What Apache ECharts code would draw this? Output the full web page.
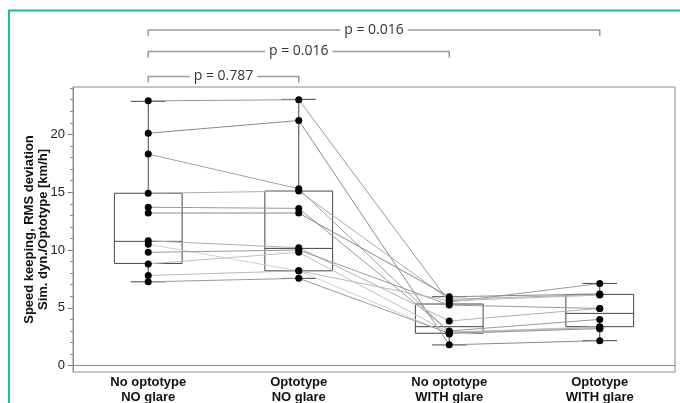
<!DOCTYPE html>
<html>
<head>
<meta charset="utf-8">
<script src="https://cdn.jsdelivr.net/npm/echarts@6/dist/echarts.min.js"></script>
<style>
  html, body { margin: 0; padding: 0; background: #fff; }
  #chart { width: 680px; height: 403px; }
</style>
</head>
<body>
<div id="chart"></div>
<script>
const categories = ['No optotype\nNO glare', 'Optotype\nNO glare', 'No optotype\nWITH glare', 'Optotype\nWITH glare']

// one value per subject, same subject order in every array
const noOptNoGlare = [22.9, 20.1, 18.3, 14.9, 13.7, 13.2, 10.8, 10.5, 9.8, 8.8, 7.8, 7.25]
const optNoGlare = [23.0, 21.2, 15.3, 15.1, 13.6, 13.2, 10.2, 8.2, 10.0, 9.8, 8.2, 7.55]
const noOptGlare = [5.5, 1.8, 2.9, 5.73, 3.0, 5.96, 3.86, 2.74, 5.24, 2.85, 5.6, 2.8]
const optGlare = [7.1, 2.16, 3.3, 6.16, 4.0, 6.2, 4.95, 3.23, 4.95, 3.37, 6.1, 3.2]

// box stats: low whisker, Q1, median, Q3, high whisker
const boxLow = [7.25, 7.55, 1.79, 2.16]
const boxQ1 = [8.84, 8.2, 2.8, 3.37]
const boxMedian = [10.75, 10.14, 3.37, 4.52]
const boxQ3 = [14.91, 15.1, 5.33, 6.16]
const boxHigh = [22.86, 23.03, 5.96, 7.11]

const majorTicks = [0, 5, 10, 15, 20]
const minorTicks = [0, 1, 2, 3, 4, 5, 6, 7, 8, 9, 10, 11, 12, 13, 14, 15, 16, 17, 18, 19, 20, 21, 22, 23, 24]

const pLabels = ['p = 0.787', 'p = 0.016', 'p = 0.016']
const pPairs = [[0, 1], [0, 2], [0, 3]]

const lineShades = ['#999', '#8a8a8a', '#a0a0a0', '#aaa', '#999', '#888', '#b0b0b0', '#d0d0d0', '#999', '#c0c0c0', '#b8b8b8', '#999']

const groups = [noOptNoGlare, optNoGlare, noOptGlare, optGlare]

const chartDom = document.getElementById('chart')
const myChart = echarts.init(chartDom)

const subjectLines = noOptNoGlare.map((_, i) => ({
  type: 'line',
  data: groups.map((g) => g[i]),
  symbol: 'none',
  silent: true,
  z: 2,
  lineStyle: { color: lineShades[i], width: 1 },
}))

const dots = []
groups.forEach((g, c) => g.forEach((v) => dots.push([c, v])))

const boxRows = categories.map((_, i) => [i, boxLow[i], boxQ1[i], boxMedian[i], boxQ3[i], boxHigh[i]])

const boxColor = '#444'

function renderBox(params, api) {
  const c = api.value(0)
  const band = api.size([1, 0])[0]
  const half = band * 0.225
  const cap = band * 0.115
  const lo = api.coord([c, api.value(1)])
  const q1 = api.coord([c, api.value(2)])
  const med = api.coord([c, api.value(3)])
  const q3 = api.coord([c, api.value(4)])
  const hi = api.coord([c, api.value(5)])
  const x = lo[0]
  const st = { stroke: boxColor, lineWidth: 1, fill: null }
  return {
    type: 'group',
    children: [
      { type: 'rect', shape: { x: x - half, y: q3[1], width: half * 2, height: q1[1] - q3[1] }, style: st },
      { type: 'line', shape: { x1: x - half, y1: med[1], x2: x + half, y2: med[1] }, style: st },
      { type: 'line', shape: { x1: x, y1: q3[1], x2: x, y2: hi[1] }, style: st },
      { type: 'line', shape: { x1: x, y1: q1[1], x2: x, y2: lo[1] }, style: st },
      { type: 'line', shape: { x1: x - cap, y1: hi[1], x2: x + cap, y2: hi[1] }, style: st },
      { type: 'line', shape: { x1: x - cap, y1: lo[1], x2: x + cap, y2: lo[1] }, style: st },
    ],
  }
}

const option = {
  animation: false,
  grid: {
    left: 73,
    right: 5,
    top: 87,
    bottom: 31,
    outerBoundsMode: 'none',
    show: true,
    borderColor: '#8c8c8c',
    borderWidth: 1,
  },
  xAxis: {
    type: 'category',
    data: categories,
    axisLine: { lineStyle: { color: '#8c8c8c' } },
    axisTick: { alignWithLabel: true, length: 3, lineStyle: { color: '#8c8c8c' } },
    axisLabel: {
      fontFamily: 'Liberation Sans, Arial',
      fontSize: 13,
      fontWeight: 'bold',
      color: '#111',
      lineHeight: 15,
      margin: 3,
    },
  },
  yAxis: [
    {
      type: 'value',
      min: -0.55,
      max: 24.1,
      name: 'Speed keeping, RMS deviation\nSim. dyn./Optotype [km/h]',
      nameLocation: 'middle',
      nameGap: 23,
      nameMoveOverlap: false,
      nameTextStyle: {
        fontFamily: 'Liberation Sans, Arial',
        fontSize: 13,
        fontWeight: 'bold',
        color: '#111',
        lineHeight: 14,
      },
      splitLine: { show: false },
      axisLine: { show: true, lineStyle: { color: '#8c8c8c' } },
      axisTick: { show: true, length: 5, customValues: majorTicks, lineStyle: { color: '#666' } },
      axisLabel: {
        customValues: majorTicks,
        fontFamily: 'Liberation Sans, Arial',
        fontSize: 13,
        color: '#222',
        margin: 8,
      },
    },
    {
      type: 'value',
      min: -0.55,
      max: 24.1,
      position: 'left',
      splitLine: { show: false },
      axisLine: { show: false },
      axisLabel: { show: false },
      axisTick: { show: true, length: 3, customValues: minorTicks, lineStyle: { color: '#888' } },
    },
  ],
  series: [
    {
      type: 'custom',
      data: boxRows,
      renderItem: renderBox,
      silent: true,
      z: 1,
    },
    ...subjectLines,
    {
      type: 'scatter',
      data: dots,
      symbolSize: 7,
      itemStyle: { color: '#000', opacity: 1 },
      silent: true,
      z: 5,
    },
  ],
}

myChart.setOption(option)

// significance brackets above the plot, anchored to the category positions
const bracketY = [76.5, 51.5, 30]
const bracketDrop = 6
const graphics = [
  {
    type: 'rect',
    shape: { x: 9, y: 10.5, width: 720, height: 440 },
    style: { stroke: '#1abc9c', lineWidth: 2, fill: null },
    silent: true,
  },
]
pPairs.forEach(([a, b], i) => {
  const x1 = myChart.convertToPixel({ xAxisIndex: 0 }, a)
  const x2 = myChart.convertToPixel({ xAxisIndex: 0 }, b)
  const y = bracketY[i]
  graphics.push({
    type: 'polyline',
    shape: { points: [[x1, y + bracketDrop], [x1, y], [x2, y], [x2, y + bracketDrop]] },
    style: { stroke: '#9a9a9a', lineWidth: 1.5, fill: null },
    silent: true,
  })
  graphics.push({
    type: 'text',
    x: (x1 + x2) / 2,
    y: y,
    style: {
      text: pLabels[i],
      align: 'center',
      verticalAlign: 'middle',
      fontFamily: 'Open Sans, Liberation Sans',
      fontSize: 14,
      fill: '#333',
      backgroundColor: '#fff',
      padding: [0, 4],
    },
    silent: true,
  })
})
myChart.setOption({ graphic: graphics })
</script>
</body>
</html>
